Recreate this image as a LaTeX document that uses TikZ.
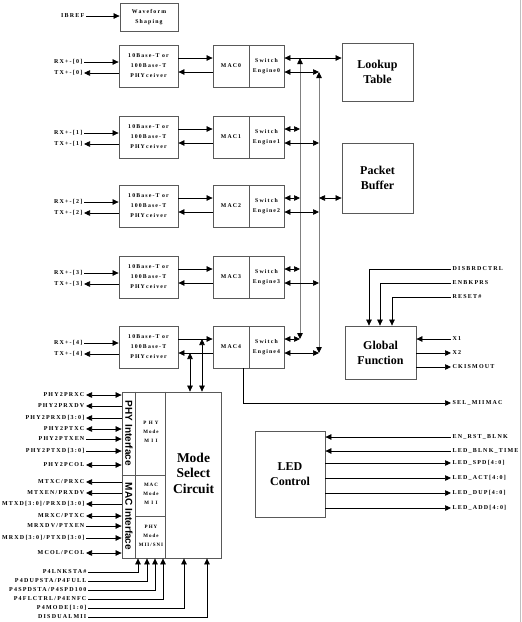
\documentclass[tikz,border=0pt]{standalone}
\usepackage{fontspec}
\setmainfont{Liberation Serif}
\newfontfamily\sigfont[LetterSpace=20]{Liberation Serif}
\newfontfamily\ifcfont{Liberation Sans}
\usetikzlibrary{arrows.meta}

\begin{document}
\begin{tikzpicture}[x=1pt,y=-1pt,
	>={Triangle[length=6pt,width=5.5pt,color=black]},
	blk/.style={draw=black!65,line width=0.8pt,inner sep=0pt,align=center},
	wire/.style={line width=0.7pt},
	bus/.style={line width=0.8pt,draw=black!50},
	sig/.style={font=\sigfont\bfseries\fontsize{6}{7}\selectfont,inner sep=1.5pt},
	txt/.style={font=\sigfont\bfseries\fontsize{5.8}{10}\selectfont},
	big/.style={font=\bfseries\fontsize{12}{15}\selectfont}]
	\useasboundingbox (0,0) rectangle (522,622);
	\draw[black!25] (520.5,0) -- (520.5,622);

	\node[blk,txt,minimum width=58pt,minimum height=28pt] (wave) at (149,17) {Waveform\\Shaping};
	\node[sig,anchor=east] (ibref) at (86,16) {IBREF};
	\draw[wire,->] (ibref.east) -- (wave.west |- ibref.east);

	% five ports
	\foreach \i/\c in {0/66,1/137,2/206,3/277,4/347}{
		\node[blk,txt,minimum width=59pt,minimum height=42pt] (phy\i) at (148.5,\c) {10Base-T or\\100Base-T\\PHYceiver};
		\node[blk,txt,minimum width=36pt,minimum height=42pt] (mac\i) at (231,\c) {MAC\i};
		\node[blk,txt,minimum width=35pt,minimum height=42pt] (sw\i) at (266.5,\c) {Switch\\Engine\i};
		\node[sig,anchor=east] (rx\i) at (84,\c-4) {RX+-[\i]};
		\node[sig,anchor=east] (tx\i) at (84,\c+7) {TX+-[\i]};
		\coordinate (up\i) at ([yshift=8pt]phy\i.east);
		\coordinate (dn\i) at ([yshift=-6pt]mac\i.west);
		\coordinate (s\i) at ([yshift=8pt]sw\i.east);
		\coordinate (l\i) at ([yshift=-6pt]sw\i.east);
		\draw[wire,->] (rx\i.east) -- (phy\i.west |- rx\i.east);
		\draw[wire,->] (phy\i.west |- tx\i.east) -- (tx\i.east);
		\draw[wire,->] (up\i) -- (up\i -| mac\i.west);
		\draw[wire,->] (dn\i) -- (dn\i -| phy\i.east);
	}

	\node[blk,big,minimum width=71pt,minimum height=58pt] (look) at (377.5,72) {Lookup\\Table};
	\node[blk,big,minimum width=71pt,minimum height=70pt] (pkt) at (377.5,178) {Packet\\Buffer};

	\coordinate (bus1t) at (300,58);
	\coordinate (bus1b) at (300,339);
	\coordinate (bus2t) at (319,72);
	\coordinate (bus2b) at (319,353);
	\draw[bus,<->] (bus1t) -- (bus1b);
	\draw[bus,<->] (bus2t) -- (bus2b);
	\draw[wire,<->] (s0) -- (s0 -| look.west);
	\foreach \i in {1,2,3,4}
		\draw[wire,<->] (s\i) -- (s\i -| bus1t);
	\foreach \i in {0,1,2,3,4}
		\draw[wire,<->] (l\i) -- (l\i -| bus2t);
	\draw[wire,<->] (s2 -| bus2t) -- (s2 -| pkt.west);

	\node[blk,big,minimum width=71pt,minimum height=53pt] (glob) at (380.5,352.5) {Global\\Function};
	\foreach \y/\x/\t [count=\k] in {269/369/DISBRDCTRL,283/380/ENBKPRS,297/392/RESET\#}{
		\node[sig,anchor=west] (gi\k) at (451,\y) {\t};
		\draw[wire,->] (gi\k.west) -| (glob.north -| \x,0);
	}
	\foreach \y/\s/\t [count=\k] in {339/<-/X1,353/->/X2,367/->/CKISMOUT}{
		\node[sig,anchor=west] (go\k) at (451,\y) {\t};
		\draw[wire,\s] (glob.east |- go\k.west) -- (go\k.west);
	}

	\node[sig,anchor=west] (selm) at (451,403) {SEL\_MIIMAC};
	\draw[wire,->] ([xshift=12pt]mac4.south) |- (selm.west);

	\node[blk,big,minimum width=70pt,minimum height=86pt] (led) at (290,474) {LED\\Control};
	\foreach \y/\s/\t [count=\k] in {437/<-/EN\_RST\_BLNK,451/<-/LED\_BLNK\_TIME,463/->/{LED\_SPD[4:0]},478/->/{LED\_ACT[4:0]},493/->/{LED\_DUP[4:0]},508/->/{LED\_ADD[4:0]}}{
		\node[sig,anchor=west] (lo\k) at (451,\y) {\t};
		\draw[wire,\s] (led.east |- lo\k.west) -- (lo\k.west);
	}

	% mode select block
	\node[blk,minimum width=99pt,minimum height=166pt] (mode) at (171.5,475) {};
	\draw[blk] ([xshift=14pt]mode.north west) -- ([xshift=14pt]mode.south west);
	\draw[blk] ([xshift=44pt]mode.north west) -- ([xshift=44pt]mode.south west);
	\draw[blk] (mode.west) -- ([xshift=44pt]mode.west);
	\draw[blk] (136,516) -- (166,516);
	\node[rotate=-90,font=\ifcfont\bfseries\fontsize{10}{10}\selectfont] (phyif) at (129,433.5) {PHY Interface};
	\node[rotate=-90,font=\ifcfont\bfseries\fontsize{10}{10}\selectfont] (macif) at (129,516.5) {MAC Interface};
	\node[txt,font=\sigfont\bfseries\fontsize{5}{9}\selectfont,align=center] (m1) at (151,432) {P H Y\\Mode\\M I I};
	\node[txt,font=\sigfont\bfseries\fontsize{5}{9}\selectfont,align=center] (m2) at (151,494) {MAC\\Mode\\M I I};
	\node[txt,font=\sigfont\bfseries\fontsize{5}{9}\selectfont,align=center] (m3) at (151,536) {PHY\\Mode\\MII/SNI};
	\node[font=\bfseries\fontsize{13.5}{15.5}\selectfont,align=center] (msc) at (193.5,473) {Mode\\Select\\Circuit};

	\draw[wire,<->] (dn4 -| 190,0) -- (mode.north -| 190,0);
	\draw[wire,<->] (up4 -| 202,0) -- (mode.north -| 202,0);

	\foreach \y/\s/\t [count=\k] in {395/<->/PHY2PRXC,406/<-/PHY2PRXDV,418/<-/{PHY2PRXD[3:0]},429/<->/PHY2PTXC,439/->/PHY2PTXEN,451/->/{PHY2PTXD[3:0]},465/<->/PHY2PCOL,482/<-/{MTXC/PRXC},493/<-/{MTXEN/PRXDV},504/<-/{MTXD[3:0]/PRXD[3:0]},516/<->/{MRXC/PTXC},526/->/{MRXDV/PTXEN},538/->/{MRXD[3:0]/PTXD[3:0]},553/<->/{MCOL/PCOL}}{
		\node[sig,anchor=east] (ms\k) at (86,\y) {\t};
		\draw[wire,\s] (ms\k.east) -- (mode.west |- ms\k.east);
	}
	\foreach \y/\x/\t [count=\k] in {572/138/P4LNKSTA\#,581/147/{P4DUPSTA/P4FULL},590/155/{P4SPDSTA/P4SPD100},599/163/{P4FLCTRL/P4ENFC},608/184/{P4MODE[1:0]},617/207/DISDUALMII}{
		\node[sig,anchor=east] (pb\k) at (88,\y) {\t};
		\draw[wire,->] (pb\k.east) -| (mode.south -| \x,0);
	}
\end{tikzpicture}
\end{document}
